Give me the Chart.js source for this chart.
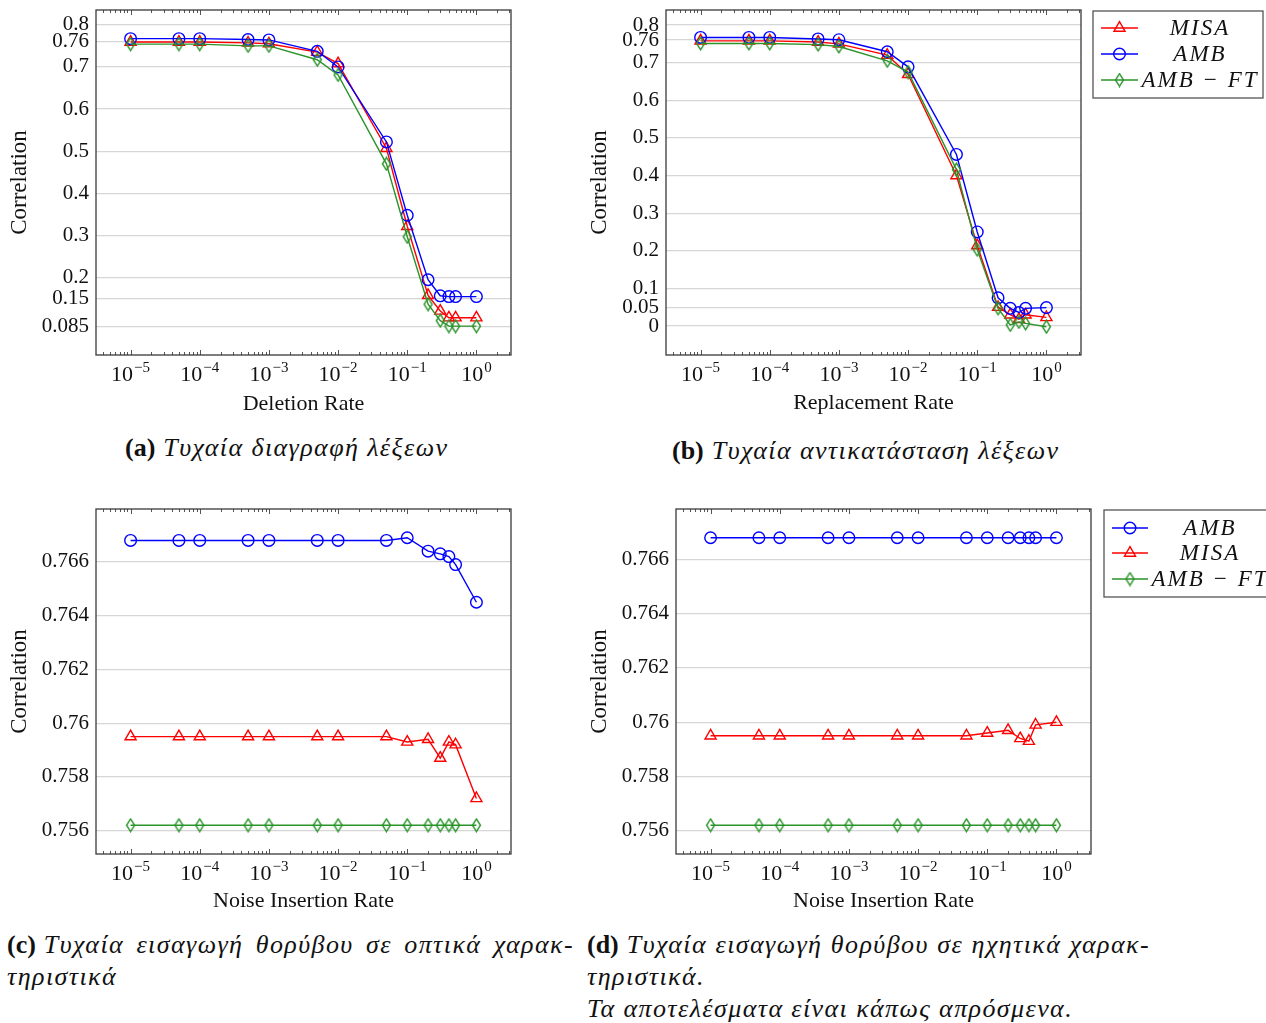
<!DOCTYPE html>
<html>
<head>
<meta charset="utf-8">
<script src="https://cdn.jsdelivr.net/npm/chart.js@4.4.1/dist/chart.umd.min.js"></script>
<style>
  body { margin: 0; background: #fff; width: 1266px; height: 1023px; overflow: hidden; position: relative; }
  canvas { position: absolute; }
  .cap { position: absolute; font-family: 'Liberation Serif', serif; font-size: 26px; letter-spacing: 1.4px; line-height: 32px; color: #111; white-space: nowrap; font-style: italic; }
  .cap b { font-style: normal; letter-spacing: 0; margin-right: 8px; }
  .just { text-align: justify; text-align-last: justify; }
</style>
</head>
<body>
<canvas id="chA" width="520" height="420" style="left:0;top:0"></canvas>
<canvas id="chB" width="686" height="420" style="left:580px;top:0"></canvas>
<canvas id="chC" width="520" height="420" style="left:0;top:500px"></canvas>
<canvas id="chD" width="686" height="420" style="left:580px;top:500px"></canvas>

<div class="cap" style="left:125px;top:432px"><b>(a)</b>Τυχαία διαγραφή λέξεων</div>
<div class="cap" style="left:672px;top:435px"><b>(b)</b>Τυχαία αντικατάσταση λέξεων</div>
<div class="cap just" style="left:7px;top:929px;width:567px"><b>(c)</b>Τυχαία εισαγωγή θορύβου σε οπτικά χαρακ-</div>
<div class="cap" style="left:7px;top:961px">τηριστικά</div>
<div class="cap just" style="left:587px;top:929px;width:563px"><b>(d)</b>Τυχαία εισαγωγή θορύβου σε ηχητικά χαρακ-</div>
<div class="cap" style="left:587px;top:961px">τηριστικά.</div>
<div class="cap" style="left:587px;top:993px">Τα αποτελέσματα είναι κάπως απρόσμενα.</div>

<script>
// rates (x axis, log)
const rates = [1e-5, 5e-5, 1e-4, 5e-4, 1e-3, 5e-3, 1e-2, 5e-2, 0.1, 0.2, 0.3, 0.4, 0.5, 1];

// (a) deletion
const misaA = [0.759, 0.759, 0.759, 0.757, 0.755, 0.735, 0.708, 0.507, 0.322, 0.158, 0.121, 0.105, 0.105, 0.105];
const ambA  = [0.767, 0.767, 0.767, 0.765, 0.764, 0.737, 0.700, 0.522, 0.348, 0.195, 0.157, 0.155, 0.155, 0.155];
const ftA   = [0.754, 0.754, 0.754, 0.750, 0.750, 0.717, 0.681, 0.470, 0.297, 0.137, 0.098, 0.085, 0.085, 0.085];

// (b) replacement
const misaB = [0.758, 0.758, 0.758, 0.755, 0.750, 0.720, 0.669, 0.400, 0.214, 0.050, 0.030, 0.018, 0.030, 0.023];
const ambB  = [0.767, 0.767, 0.767, 0.763, 0.761, 0.729, 0.689, 0.456, 0.250, 0.075, 0.047, 0.036, 0.047, 0.049];
const ftB   = [0.751, 0.751, 0.751, 0.748, 0.743, 0.705, 0.675, 0.416, 0.203, 0.047, 0.003, 0.011, 0.007, -0.002];

// (c) noise, visual
const ambC  = [0.7668, 0.7668, 0.7668, 0.7668, 0.7668, 0.7668, 0.7668, 0.7668, 0.7669, 0.7664, 0.7663, 0.7662, 0.7659, 0.7645];
const misaC = [0.7595, 0.7595, 0.7595, 0.7595, 0.7595, 0.7595, 0.7595, 0.7595, 0.7593, 0.7594, 0.7587, 0.7593, 0.7592, 0.7572];
const ftC   = [0.7562, 0.7562, 0.7562, 0.7562, 0.7562, 0.7562, 0.7562, 0.7562, 0.7562, 0.7562, 0.7562, 0.7562, 0.7562, 0.7562];

// (d) noise, audio
const ambD  = [0.7668, 0.7668, 0.7668, 0.7668, 0.7668, 0.7668, 0.7668, 0.7668, 0.7668, 0.7668, 0.7668, 0.7668, 0.7668, 0.7668];
const misaD = [0.7595, 0.7595, 0.7595, 0.7595, 0.7595, 0.7595, 0.7595, 0.7595, 0.7596, 0.7597, 0.7594, 0.7593, 0.7599, 0.7600];
const ftD   = [0.7562, 0.7562, 0.7562, 0.7562, 0.7562, 0.7562, 0.7562, 0.7562, 0.7562, 0.7562, 0.7562, 0.7562, 0.7562, 0.7562];

// y ticks
const ticksA = [0.085, 0.15, 0.2, 0.3, 0.4, 0.5, 0.6, 0.7, 0.76, 0.8];
const ticksB = [0, 0.05, 0.1, 0.2, 0.3, 0.4, 0.5, 0.6, 0.7, 0.76, 0.8];
const ticksN = [0.756, 0.758, 0.76, 0.762, 0.764, 0.766];

const FONT = "'Liberation Serif', serif";
const RED = '#ff0000', BLUE = '#0000ff', GREEN = '#2a932a';

// thin diamond marker like pgfplots
const diamond = document.createElement('canvas');
diamond.width = 11; diamond.height = 15;
(function () {
  const c = diamond.getContext('2d');
  c.strokeStyle = GREEN; c.lineWidth = 1.4;
  c.beginPath();
  c.moveTo(5.5, 1.2); c.lineTo(9.5, 7.5); c.lineTo(5.5, 13.8); c.lineTo(1.5, 7.5); c.closePath();
  c.stroke();
})();

const SER = {
  MISA: { label: 'MISA', color: RED, marker: 'triangle', radius: 6.4 },
  AMB:  { label: 'AMB', color: BLUE, marker: 'circle', radius: 5.8 },
  FT:   { label: 'AMB − FT', color: GREEN, marker: diamond, radius: 6 }
};

function drawMarker(ctx, s, x, y) {
  ctx.save();
  ctx.strokeStyle = s.color; ctx.lineWidth = 1.4;
  if (s.marker === 'circle') {
    ctx.beginPath(); ctx.arc(x, y, s.radius, 0, Math.PI * 2); ctx.stroke();
  } else if (s.marker === 'triangle') {
    const r = s.radius;
    ctx.beginPath();
    ctx.moveTo(x, y - r);
    ctx.lineTo(x + r * 0.866, y + r / 2);
    ctx.lineTo(x - r * 0.866, y + r / 2);
    ctx.closePath(); ctx.stroke();
  } else {
    ctx.drawImage(s.marker, x - s.marker.width / 2, y - s.marker.height / 2);
  }
  ctx.restore();
}

// box, log tick marks and 10^k labels
const framePlugin = {
  id: 'frame',
  afterDraw(chart) {
    const { ctx, chartArea: a } = chart;
    const xs = chart.scales.x;
    ctx.save();
    ctx.strokeStyle = '#555';
    ctx.lineWidth = 1;
    for (let k = -6; k <= 0; k++) {
      for (let m = 1; m <= 9; m++) {
        const v = m * Math.pow(10, k);
        if (v < xs.min || v > xs.max) continue;
        const x = Math.round(xs.getPixelForValue(v)) + 0.5;
        const len = m === 1 ? 5 : 3;
        ctx.beginPath();
        ctx.moveTo(x, a.bottom); ctx.lineTo(x, a.bottom - len);
        ctx.moveTo(x, a.top); ctx.lineTo(x, a.top + len);
        ctx.stroke();
      }
    }
    ctx.strokeStyle = '#3a3a3a';
    ctx.lineWidth = 1.3;
    ctx.strokeRect(a.left, a.top, a.right - a.left, a.bottom - a.top);

    ctx.fillStyle = '#111';
    ctx.textBaseline = 'alphabetic';
    ctx.textAlign = 'left';
    const baseY = a.bottom + 26;
    for (let k = -5; k <= 0; k++) {
      const x = xs.getPixelForValue(Math.pow(10, k));
      const exp = k === 0 ? '0' : '−' + (-k);
      ctx.font = '22px ' + FONT;
      const w1 = ctx.measureText('10').width;
      ctx.font = '15px ' + FONT;
      const w2 = ctx.measureText(exp).width;
      const start = x - (w1 + w2 + 1) / 2;
      ctx.font = '22px ' + FONT;
      ctx.fillText('10', start, baseY);
      ctx.font = '15px ' + FONT;
      ctx.fillText(exp, start + w1 + 1, baseY - 9);
    }
    ctx.restore();
  }
};

// pgfplots style legend box
const boxLegendPlugin = {
  id: 'boxLegend',
  afterDraw(chart, args, opts) {
    if (!opts || !opts.rows) return;
    const ctx = chart.ctx;
    ctx.save();
    ctx.fillStyle = '#fff';
    ctx.fillRect(opts.x, opts.y, opts.w, opts.h);
    ctx.strokeStyle = '#555';
    ctx.lineWidth = 1.3;
    ctx.strokeRect(opts.x, opts.y, opts.w, opts.h);
    opts.rows.forEach((s, i) => {
      const y = opts.rowY[i];
      ctx.strokeStyle = s.color;
      ctx.lineWidth = 1.4;
      ctx.beginPath();
      ctx.moveTo(opts.lineX0, y); ctx.lineTo(opts.lineX1, y);
      ctx.stroke();
      drawMarker(ctx, s, (opts.lineX0 + opts.lineX1) / 2, y);
      ctx.fillStyle = '#111';
      ctx.font = 'italic 23px ' + FONT;
      ctx.letterSpacing = '2px';
      ctx.textAlign = 'center';
      ctx.textBaseline = 'middle';
      ctx.fillText(s.label, opts.textX, y + 1);
    });
    ctx.restore();
  }
};

function fmt(v) {
  return String(parseFloat(v.toFixed(4)));
}

function makeChart(id, cfg) {
  const n = cfg.series.length;
  return new Chart(document.getElementById(id), {
    type: 'line',
    data: {
      datasets: cfg.series.map((s, i) => ({
        label: s.label,
        data: rates.map((x, j) => ({ x: x, y: cfg.values[i][j] })),
        borderColor: s.color,
        borderWidth: 1.4,
        pointStyle: s.marker,
        pointRadius: s.radius,
        pointBorderColor: s.color,
        pointBackgroundColor: 'rgba(0,0,0,0)',
        pointBorderWidth: 1.4,
        tension: 0,
        fill: false,
        order: n - i
      }))
    },
    options: {
      responsive: false,
      animation: false,
      devicePixelRatio: 1,
      events: [],
      layout: { padding: { top: cfg.padTop, right: cfg.padRight, left: 0, bottom: 0 } },
      plugins: {
        legend: { display: false },
        tooltip: { enabled: false },
        boxLegend: cfg.legend || {}
      },
      scales: {
        x: {
          type: 'logarithmic',
          min: Math.pow(10, -5.5),
          max: Math.pow(10, 0.5),
          grid: { display: false },
          border: { display: false },
          ticks: { display: false },
          title: { display: true, text: cfg.xTitle, color: '#111', font: { family: FONT, size: 22 }, padding: { top: 0, bottom: cfg.xTitlePad } },
          afterFit: s => { s.height = cfg.xHeight; s.paddingLeft = 0; s.paddingRight = 0; }
        },
        y: {
          min: cfg.yMin,
          max: cfg.yMax,
          afterBuildTicks: s => { s.ticks = cfg.yTicks.map(v => ({ value: v })); },
          grid: { color: '#d6d6d6', lineWidth: 1.2, drawTicks: false },
          border: { display: false },
          ticks: { autoSkip: false, padding: 7, color: '#111', font: { family: FONT, size: 21 }, callback: v => fmt(v) },
          title: { display: true, text: 'Correlation', color: '#111', font: { family: FONT, size: 23 }, padding: { top: 6, bottom: 0 } },
          afterFit: s => { s.width = cfg.yWidth; s.paddingTop = 0; s.paddingBottom = 0; }
        }
      }
    },
    plugins: [framePlugin, boxLegendPlugin]
  });
}

makeChart('chA', {
  series: [SER.MISA, SER.AMB, SER.FT],
  values: [misaA, ambA, ftA],
  yTicks: ticksA, yMin: 0.0165, yMax: 0.835,
  xTitle: 'Deletion Rate', xTitlePad: 3,
  yWidth: 96, xHeight: 65, padTop: 10, padRight: 9
});

makeChart('chB', {
  series: [SER.MISA, SER.AMB, SER.FT],
  values: [misaB, ambB, ftB],
  yTicks: ticksB, yMin: -0.077, yMax: 0.84,
  xTitle: 'Replacement Rate', xTitlePad: 4,
  yWidth: 86, xHeight: 65, padTop: 10, padRight: 185,
  legend: {
    x: 513, y: 11, w: 170, h: 87,
    rowY: [28, 54, 80], lineX0: 521, lineX1: 558, textX: 620,
    rows: [SER.MISA, SER.AMB, SER.FT]
  }
});

makeChart('chC', {
  series: [SER.AMB, SER.MISA, SER.FT],
  values: [ambC, misaC, ftC],
  yTicks: ticksN, yMin: 0.75513, yMax: 0.76797,
  xTitle: 'Noise Insertion Rate', xTitlePad: 6,
  yWidth: 96, xHeight: 66, padTop: 9, padRight: 9
});

makeChart('chD', {
  series: [SER.AMB, SER.MISA, SER.FT],
  values: [ambD, misaD, ftD],
  yTicks: ticksN, yMin: 0.75514, yMax: 0.76786,
  xTitle: 'Noise Insertion Rate', xTitlePad: 6,
  yWidth: 96, xHeight: 66, padTop: 9, padRight: 175,
  legend: {
    x: 524, y: 10, w: 180, h: 87,
    rowY: [28, 53, 79], lineX0: 532, lineX1: 568, textX: 630,
    rows: [SER.AMB, SER.MISA, SER.FT]
  }
});
</script>
</body>
</html>
